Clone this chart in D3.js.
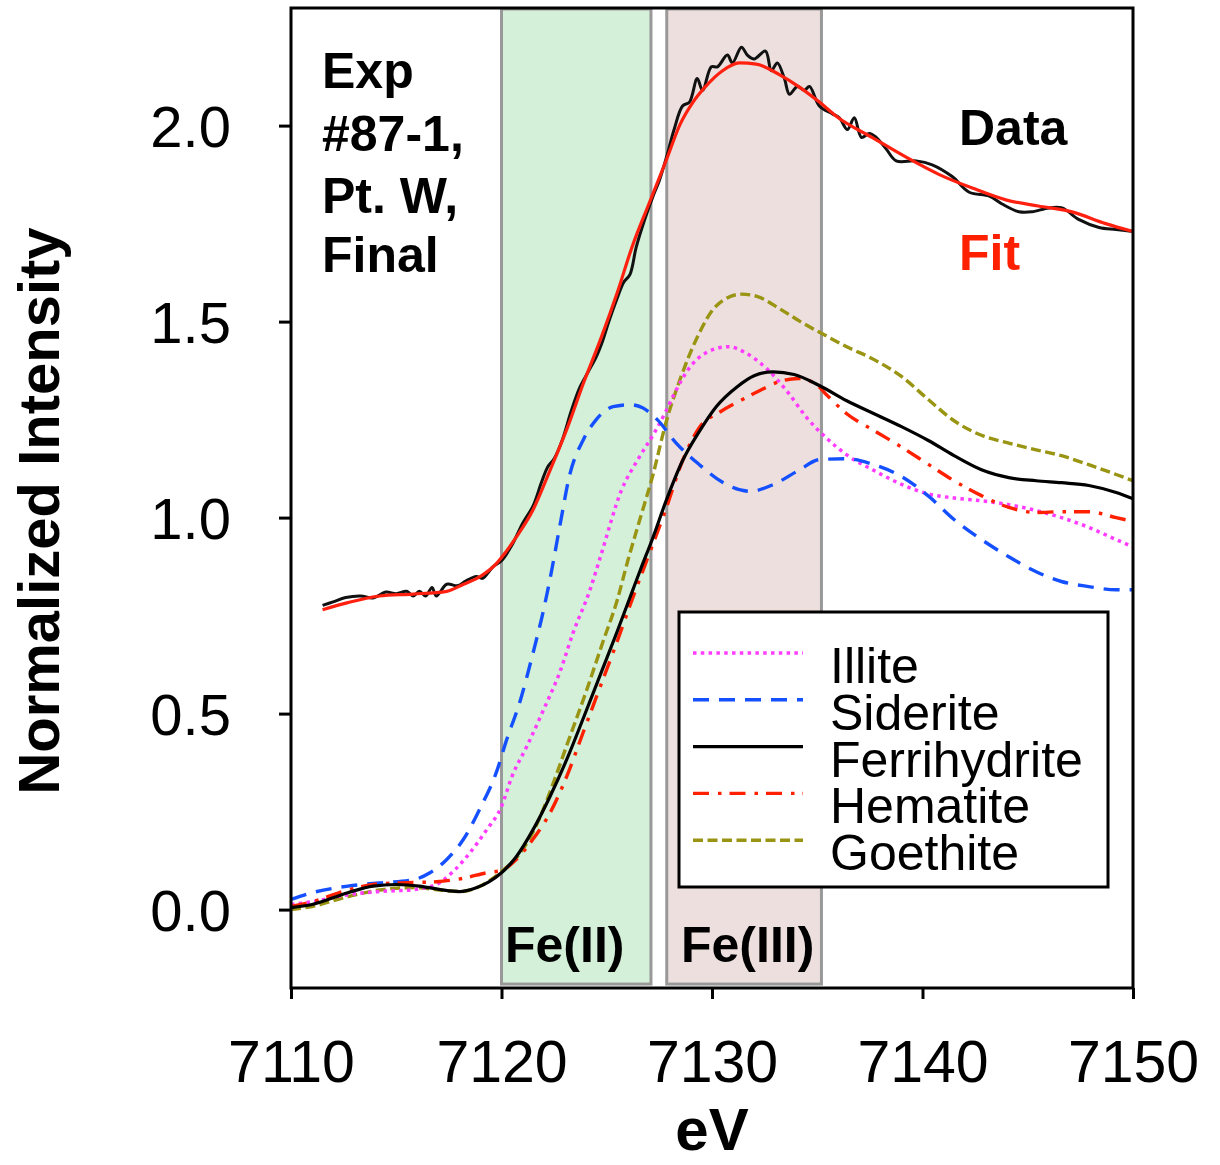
<!DOCTYPE html>
<html>
<head>
<meta charset="utf-8">
<script src="https://cdn.jsdelivr.net/npm/d3@7"></script>
<style>
  html, body { margin: 0; padding: 0; background: #fff; }
  svg { display: block; font-family: "Liberation Sans", Arial, Helvetica, sans-serif; }
</style>
</head>
<body>
<svg id="chart" width="1220" height="1165"></svg>
<script>
// ---------- data ----------
const xTicks = [7110, 7120, 7130, 7140, 7150];
const yTicks = [0, 0.5, 1.0, 1.5, 2.0];
const yTickLabels = ["0.0", "0.5", "1.0", "1.5", "2.0"];
const xDomain = [7110, 7150];
const yDomain = [-0.2, 2.3];

const regions = [
  { label: "Fe(II)", from: 7120, to: 7127.1 },
  { label: "Fe(III)", from: 7127.85, to: 7135.2 }
];

const sampleLines = ["Exp", "#87-1,", "Pt. W,", "Final"];
const legendNames = ["Illite", "Siderite", "Ferrihydrite", "Hematite", "Goethite"];

const dataSpectrum = [[7111.5,0.776],[7112.0,0.785],[7112.6,0.796],[7113.3,0.80],[7113.9,0.795],[7114.5,0.81],[7115.0,0.806],[7115.5,0.812],[7115.8,0.80],[7116.1,0.812],[7116.4,0.80],[7116.7,0.822],[7116.9,0.80],[7117.4,0.83],[7117.9,0.826],[7118.3,0.838],[7118.8,0.85],[7119.1,0.845],[7119.4,0.862],[7119.6,0.875],[7120.0,0.89],[7120.5,0.93],[7121.0,0.985],[7121.5,1.03],[7121.9,1.09],[7122.2,1.13],[7122.5,1.15],[7122.9,1.20],[7123.3,1.27],[7123.7,1.33],[7124.1,1.37],[7124.5,1.41],[7124.8,1.45],[7125.1,1.50],[7125.5,1.56],[7125.8,1.60],[7126.1,1.62],[7126.4,1.69],[7126.8,1.76],[7127.2,1.82],[7127.5,1.86],[7127.84,1.92],[7128.2,1.99],[7128.6,2.05],[7128.93,2.06],[7129.3,2.12],[7129.55,2.09],[7129.97,2.15],[7130.26,2.15],[7130.73,2.18],[7130.97,2.16],[7131.4,2.20],[7131.68,2.18],[7132.0,2.17],[7132.54,2.19],[7132.82,2.14],[7133.1,2.16],[7133.44,2.12],[7133.68,2.08],[7134.06,2.10],[7134.39,2.09],[7134.63,2.10],[7135.1,2.05],[7135.72,2.03],[7136.05,2.02],[7136.43,1.99],[7136.76,2.02],[7137.1,1.97],[7137.47,1.98],[7137.8,1.97],[7138.28,1.94],[7138.75,1.91],[7139.7,1.91],[7140.46,1.90],[7141.41,1.87],[7142.22,1.83],[7143.17,1.82],[7143.78,1.80],[7144.59,1.78],[7145.2,1.78],[7146.0,1.79],[7146.63,1.79],[7147.44,1.76],[7148.39,1.74],[7149.19,1.735],[7150,1.73]];

const fitSpectrum = [[7111.5,0.765],[7112.7,0.783],[7114.2,0.80],[7115.8,0.805],[7117.4,0.812],[7118.2,0.83],[7119.0,0.85],[7119.8,0.885],[7120.0,0.898],[7120.7,0.95],[7121.5,1.02],[7122.3,1.12],[7123.1,1.225],[7123.9,1.344],[7124.7,1.454],[7125.5,1.574],[7126.2,1.69],[7127.0,1.80],[7127.8,1.908],[7128.5,2.005],[7129.1,2.06],[7129.7,2.10],[7130.5,2.14],[7131.3,2.16],[7132.1,2.157],[7133.2,2.13],[7134.1,2.10],[7135.1,2.06],[7136.0,2.02],[7137.6,1.97],[7139.2,1.92],[7140.8,1.875],[7142.4,1.84],[7144.0,1.81],[7145.5,1.795],[7147.1,1.78],[7148.7,1.75],[7150,1.73]];

const illite = [[7110.0,0.013],[7111.0,0.02],[7112.7,0.038],[7114.2,0.046],[7115.8,0.051],[7116.9,0.064],[7117.7,0.097],[7118.5,0.145],[7119.3,0.204],[7120.0,0.263],[7120.5,0.34],[7121.2,0.416],[7122.0,0.51],[7122.8,0.61],[7123.4,0.706],[7124.2,0.815],[7124.7,0.90],[7125.7,1.07],[7126.5,1.15],[7127.3,1.22],[7127.8,1.27],[7128.2,1.315],[7128.9,1.38],[7129.7,1.42],[7130.8,1.436],[7131.6,1.42],[7132.6,1.38],[7133.6,1.32],[7134.5,1.255],[7135.5,1.20],[7136.4,1.16],[7137.7,1.12],[7139.0,1.085],[7140.3,1.06],[7141.5,1.05],[7142.8,1.043],[7144.1,1.033],[7145.4,1.018],[7146.6,1.0],[7147.9,0.975],[7149.2,0.944],[7150.0,0.925]];

const siderite = [[7110.0,0.026],[7111.0,0.043],[7112.7,0.06],[7114.2,0.068],[7115.8,0.076],[7116.6,0.094],[7117.4,0.128],[7118.2,0.18],[7119.0,0.26],[7119.8,0.357],[7120.2,0.426],[7120.9,0.535],[7121.5,0.655],[7122.0,0.765],[7122.3,0.842],[7122.8,0.987],[7123.2,1.10],[7123.9,1.20],[7124.5,1.25],[7125.3,1.283],[7126.1,1.288],[7126.7,1.28],[7127.4,1.25],[7128.3,1.19],[7129.4,1.135],[7130.5,1.09],[7131.8,1.067],[7132.9,1.084],[7134.1,1.12],[7135.1,1.148],[7136.4,1.15],[7137.7,1.135],[7139.0,1.105],[7140.3,1.054],[7141.5,0.995],[7142.8,0.944],[7144.1,0.90],[7145.4,0.862],[7146.6,0.837],[7147.9,0.824],[7149.2,0.816],[7150.0,0.816]];

const ferrihydrite = [[7110.0,0.005],[7111.0,0.013],[7112.7,0.043],[7113.9,0.06],[7115.0,0.064],[7116.1,0.06],[7117.1,0.051],[7118.0,0.046],[7118.8,0.056],[7119.4,0.071],[7120.0,0.094],[7120.7,0.135],[7121.5,0.204],[7122.3,0.288],[7123.1,0.383],[7123.9,0.49],[7124.7,0.60],[7125.5,0.71],[7126.2,0.81],[7126.6,0.867],[7127.2,0.95],[7127.8,1.04],[7128.6,1.145],[7129.4,1.22],[7130.2,1.283],[7131.2,1.334],[7132.0,1.362],[7132.9,1.372],[7133.9,1.365],[7135.1,1.337],[7136.4,1.298],[7137.7,1.265],[7139.0,1.232],[7140.3,1.196],[7141.5,1.158],[7142.8,1.122],[7144.1,1.102],[7145.4,1.094],[7146.6,1.089],[7147.9,1.082],[7149.2,1.064],[7150.0,1.048]];

const hematite = [[7110.0,0.008],[7111.0,0.02],[7112.7,0.05],[7114.2,0.066],[7115.8,0.069],[7116.9,0.071],[7118.2,0.08],[7119.3,0.094],[7120.0,0.10],[7120.7,0.128],[7121.5,0.18],[7122.3,0.246],[7123.1,0.34],[7123.9,0.455],[7124.7,0.57],[7125.5,0.685],[7126.2,0.79],[7127.0,0.905],[7127.8,1.02],[7128.6,1.145],[7129.4,1.23],[7130.4,1.27],[7131.4,1.30],[7132.3,1.325],[7133.2,1.347],[7134.1,1.355],[7134.9,1.342],[7135.5,1.31],[7136.4,1.265],[7137.7,1.222],[7139.0,1.18],[7140.3,1.135],[7141.5,1.094],[7142.8,1.056],[7144.1,1.026],[7145.4,1.013],[7146.6,1.015],[7147.9,1.015],[7149.2,1.0],[7150.0,0.99]];

const goethite = [[7110.0,0.0],[7111.0,0.008],[7112.7,0.033],[7114.2,0.05],[7115.8,0.056],[7117.1,0.05],[7118.0,0.046],[7119.0,0.06],[7120.0,0.097],[7120.9,0.145],[7121.7,0.22],[7122.4,0.314],[7123.2,0.434],[7124.0,0.553],[7124.8,0.68],[7125.5,0.79],[7126.0,0.89],[7126.6,1.0],[7127.2,1.11],[7127.8,1.24],[7128.5,1.355],[7129.3,1.46],[7130.2,1.54],[7131.4,1.57],[7132.1,1.565],[7133.3,1.53],[7134.2,1.50],[7135.2,1.47],[7136.4,1.436],[7137.7,1.403],[7139.0,1.36],[7140.3,1.30],[7141.5,1.247],[7142.8,1.21],[7144.1,1.19],[7145.4,1.173],[7146.6,1.158],[7147.9,1.135],[7149.2,1.11],[7150.0,1.094]];

// ---------- drawing ----------
const svg = d3.select("#chart");
const m = { left: 291, right: 1133, top: 8, bottom: 988 };
const x = d3.scaleLinear().domain(xDomain).range([m.left, m.right]);
const y = d3.scaleLinear().domain(yDomain).range([m.bottom, m.top]);

const regionStyles = [
  { fill: "#d4f0d8" },
  { fill: "#ecdfdd" }
];

// shaded regions
const regG = svg.append("g");
regions.forEach((r, i) => {
  regG.append("rect")
    .attr("x", x(r.from)).attr("y", y(2.3) + 1)
    .attr("width", x(r.to) - x(r.from))
    .attr("height", y(-0.19) - y(2.3) - 1)
    .attr("fill", regionStyles[i].fill)
    .attr("stroke", "#999")
    .attr("stroke-width", 3);
});

// component curves
const series = [
  { name: "Illite", values: illite, color: "#ff3cff", dash: "3.5,4.3", width: 3.5 },
  { name: "Siderite", values: siderite, color: "#1450ff", dash: "16,10", width: 3.4 },
  { name: "Ferrihydrite", values: ferrihydrite, color: "#000", dash: null, width: 3.2 },
  { name: "Hematite", values: hematite, color: "#ff2000", dash: "16,9,3.5,8", width: 3.4 },
  { name: "Goethite", values: goethite, color: "#999412", dash: "10,4.5", width: 3.4 }
];

const smooth = d3.line().x(d => x(d[0])).y(d => y(d[1])).curve(d3.curveMonotoneX);
const curvy = d3.line().x(d => x(d[0])).y(d => y(d[1])).curve(d3.curveCatmullRom.alpha(0.5));

const curveG = svg.append("g");
// draw order so overlaps resemble reference
[4, 0, 1, 3, 2].forEach(i => {
  const s = series[i];
  curveG.append("path")
    .attr("d", smooth(s.values))
    .attr("fill", "none")
    .attr("stroke", s.color)
    .attr("stroke-width", s.width)
    .attr("stroke-dasharray", s.dash)
    .attr("stroke-linejoin", "round");
});

// data and fit
curveG.append("path")
  .attr("d", curvy(dataSpectrum))
  .attr("fill", "none").attr("stroke", "#111").attr("stroke-width", 3)
  .attr("stroke-linejoin", "round");
curveG.append("path")
  .attr("d", smooth(fitSpectrum))
  .attr("fill", "none").attr("stroke", "#ff2010").attr("stroke-width", 3.2);

// frame
svg.append("rect")
  .attr("x", m.left).attr("y", m.top)
  .attr("width", m.right - m.left).attr("height", m.bottom - m.top)
  .attr("fill", "none").attr("stroke", "#000").attr("stroke-width", 3);

// axes
const xAxis = d3.axisBottom(x).tickValues(xTicks).tickFormat(d3.format("d"))
  .tickSize(11).tickPadding(41);
const xg = svg.append("g").attr("transform", `translate(0,${m.bottom})`).call(xAxis);
xg.select(".domain").remove();
xg.selectAll(".tick line").attr("stroke", "#000").attr("stroke-width", 3);
xg.selectAll(".tick text").attr("font-size", 59).attr("fill", "#000")
  .attr("font-family", "'Liberation Sans', Arial, sans-serif");

const yAxis = d3.axisLeft(y).tickValues(yTicks).tickFormat((d, i) => yTickLabels[i])
  .tickSize(12).tickPadding(48);
const yg = svg.append("g").attr("transform", `translate(${m.left},0)`).call(yAxis);
yg.select(".domain").remove();
yg.selectAll(".tick line").attr("stroke", "#000").attr("stroke-width", 3);
yg.selectAll(".tick text").attr("font-size", 58).attr("fill", "#000").attr("dy", "0.36em")
  .attr("font-family", "'Liberation Sans', Arial, sans-serif");

// axis titles
svg.append("text")
  .attr("x", (m.left + m.right) / 2).attr("y", 1150)
  .attr("text-anchor", "middle").attr("font-size", 60).attr("font-weight", "bold")
  .text("eV");
svg.append("text")
  .attr("transform", `translate(59,${511}) rotate(-90)`)
  .attr("text-anchor", "middle").attr("font-size", 58).attr("font-weight", "bold")
  .text("Normalized Intensity");

// sample annotation
const baselines = [88, 151, 213, 272];
sampleLines.forEach((t, i) => {
  svg.append("text").attr("x", 322).attr("y", baselines[i])
    .attr("font-size", 50).attr("font-weight", "bold").text(t);
});
svg.append("text").attr("x", 959).attr("y", 145)
  .attr("font-size", 50).attr("font-weight", "bold").attr("fill", "#000").text("Data");
svg.append("text").attr("x", 959).attr("y", 270)
  .attr("font-size", 50).attr("font-weight", "bold").attr("fill", "#ff2000").text("Fit");

// region labels
const regLabelX = [505, 681];
regions.forEach((r, i) => {
  svg.append("text").attr("x", regLabelX[i]).attr("y", 962)
    .attr("font-size", 50).attr("font-weight", "bold").text(r.label);
});

// legend
const lg = svg.append("g");
lg.append("rect").attr("x", 679).attr("y", 612).attr("width", 429).attr("height", 275)
  .attr("fill", "#fff").attr("stroke", "#000").attr("stroke-width", 3);
legendNames.forEach((name, i) => {
  const s = series.find(d => d.name === name);
  const ly = 653 + i * 46.8;
  lg.append("line").attr("x1", 693).attr("x2", 803).attr("y1", ly).attr("y2", ly)
    .attr("stroke", s.color).attr("stroke-width", s.width)
    .attr("stroke-dasharray", s.dash);
  lg.append("text").attr("x", 830).attr("y", ly + 30)
    .attr("font-size", 50).attr("fill", "#000").text(name);
});
</script>
</body>
</html>
